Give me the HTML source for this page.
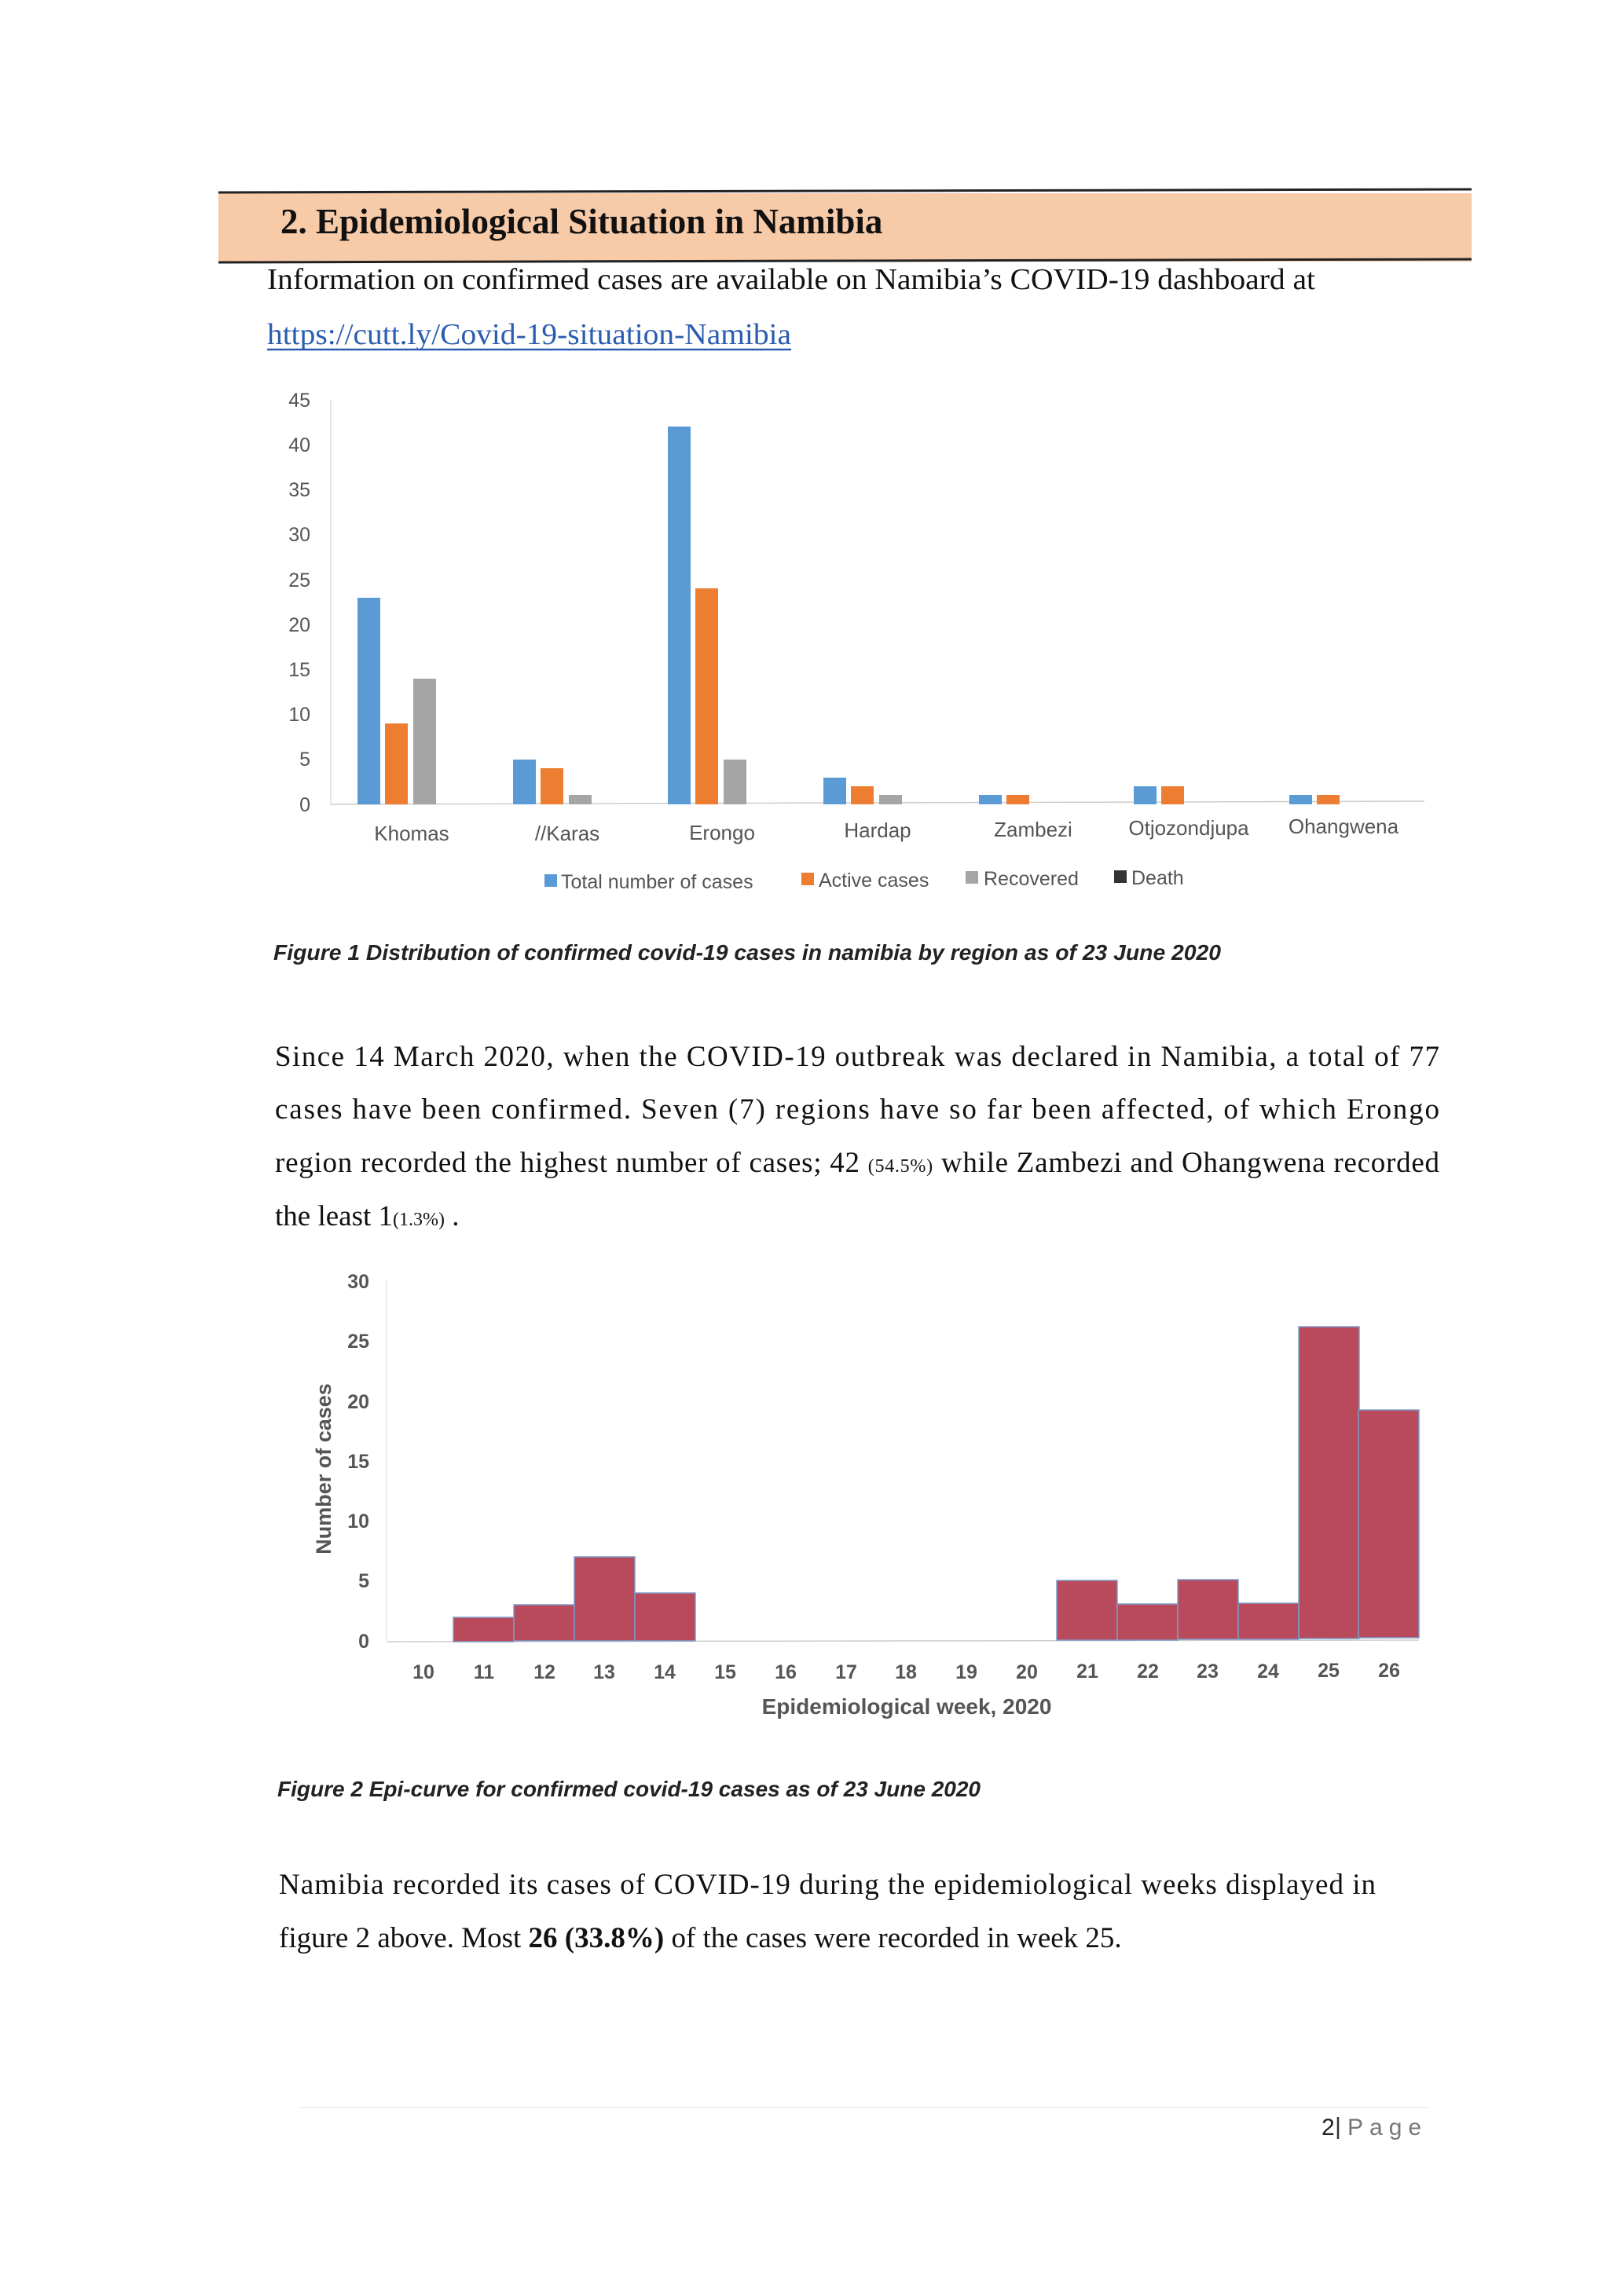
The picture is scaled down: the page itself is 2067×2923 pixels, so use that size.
<!DOCTYPE html>
<html><head><meta charset="utf-8"><style>
html,body{margin:0;padding:0;background:#fff;}
svg{display:block;}
.serif{font-family:"Liberation Serif",serif;}
.sans{font-family:"Liberation Sans","DejaVu Sans",sans-serif;}
</style></head><body>
<svg width="2067" height="2923" viewBox="0 0 2067 2923" xmlns="http://www.w3.org/2000/svg">
<rect width="2067" height="2923" fill="#fff"/>
<!-- header band -->
<rect x="278" y="246" width="1595" height="87" fill="#f7caa8"/>
<line x1="278" y1="245" x2="1873" y2="241" stroke="#222" stroke-width="3"/>
<line x1="278" y1="334" x2="1873" y2="330" stroke="#222" stroke-width="3"/>
<text class="serif" x="357" y="297" font-size="45" font-weight="bold" fill="#111">2.  Epidemiological Situation in Namibia</text>
<text class="serif" x="340" y="368" font-size="38" fill="#111" textLength="1334" lengthAdjust="spacingAndGlyphs">Information on confirmed cases are available on Namibia’s COVID-19 dashboard at</text>
<text class="serif" x="340" y="438" font-size="38" fill="#2a5db0" textLength="667" lengthAdjust="spacingAndGlyphs">https://cutt.ly/Covid-19-situation-Namibia</text>
<line x1="340" y1="445" x2="1007" y2="445" stroke="#2a5db0" stroke-width="2.5"/>

<!-- chart 1 -->
<g class="sans" font-size="25" fill="#555" text-anchor="end">
<text x="395" y="518">45</text><text x="395" y="575">40</text><text x="395" y="632">35</text>
<text x="395" y="689">30</text><text x="395" y="747">25</text><text x="395" y="804">20</text>
<text x="395" y="861">15</text><text x="395" y="918">10</text><text x="395" y="975">5</text>
<text x="395" y="1033">0</text>
</g>
<line x1="421" y1="509" x2="421" y2="1024" stroke="#ddd" stroke-width="1.5"/>
<line x1="421" y1="1024" x2="1813" y2="1020" stroke="#ccc" stroke-width="1.5"/>
<g fill="#5b9bd5">
<rect x="455" y="761" width="29" height="263"/>
<rect x="653" y="967" width="29" height="57"/>
<rect x="850" y="543" width="29" height="481"/>
<rect x="1048" y="990" width="29" height="34"/>
<rect x="1246" y="1012" width="29" height="12"/>
<rect x="1443" y="1001" width="29" height="23"/>
<rect x="1641" y="1012" width="29" height="12"/>
</g>
<g fill="#ed7d31">
<rect x="490" y="921" width="29" height="103"/>
<rect x="688" y="978" width="29" height="46"/>
<rect x="885" y="749" width="29" height="275"/>
<rect x="1083" y="1001" width="29" height="23"/>
<rect x="1281" y="1012" width="29" height="12"/>
<rect x="1478" y="1001" width="29" height="23"/>
<rect x="1676" y="1012" width="29" height="12"/>
</g>
<g fill="#a5a5a5">
<rect x="526" y="864" width="29" height="160"/>
<rect x="724" y="1012" width="29" height="12"/>
<rect x="921" y="967" width="29" height="57"/>
<rect x="1119" y="1012" width="29" height="12"/>
</g>
<g class="sans" font-size="26" fill="#555" text-anchor="middle">
<text x="524" y="1070">Khomas</text><text x="722" y="1070">//Karas</text>
<text x="919" y="1069">Erongo</text><text x="1117" y="1066">Hardap</text>
<text x="1315" y="1065">Zambezi</text><text x="1513" y="1063">Otjozondjupa</text>
<text x="1710" y="1061">Ohangwena</text>
</g>
<g class="sans" font-size="25" fill="#555">
<rect x="693" y="1113" width="16" height="16" fill="#5b9bd5"/><text x="714" y="1131">Total number of cases</text>
<rect x="1020" y="1111" width="16" height="16" fill="#ed7d31"/><text x="1042" y="1129">Active cases</text>
<rect x="1229" y="1109" width="16" height="16" fill="#a5a5a5"/><text x="1252" y="1127">Recovered</text>
<rect x="1418" y="1108" width="16" height="16" fill="#333"/><text x="1440" y="1126">Death</text>
</g>
<text class="sans" x="348" y="1222" font-size="28" font-weight="bold" font-style="italic" fill="#222" textLength="1206" lengthAdjust="spacingAndGlyphs">Figure 1 Distribution of confirmed covid-19 cases in namibia by region as of 23 June 2020</text>

<!-- paragraph -->
<g class="serif" font-size="37" fill="#111">
<text x="350" y="1357" textLength="1482" lengthAdjust="spacing">Since 14 March 2020, when the COVID-19 outbreak was declared in Namibia, a total of 77</text>
<text x="350" y="1424" textLength="1482" lengthAdjust="spacing">cases have been confirmed. Seven (7) regions have so far been affected, of which Erongo</text>
<text x="350" y="1492" textLength="1482" lengthAdjust="spacing">region recorded the highest number of cases; 42 <tspan font-size="24">(54.5%)</tspan> while Zambezi and Ohangwena recorded</text>
<text x="350" y="1560">the least 1<tspan font-size="24">(1.3%)</tspan> .</text>
</g>

<!-- chart 2 -->
<g class="sans" font-size="25" fill="#555" text-anchor="end" font-weight="bold">
<text x="470" y="1640">30</text><text x="470" y="1716">25</text><text x="470" y="1793">20</text>
<text x="470" y="1869">15</text><text x="470" y="1945">10</text><text x="470" y="2021">5</text>
<text x="470" y="2098">0</text>
</g>
<line x1="492" y1="1631" x2="492" y2="2089" stroke="#e6e6e6" stroke-width="1.5"/>
<line x1="492" y1="2090" x2="1806" y2="2088" stroke="#ccc" stroke-width="1.5"/>
<g fill="#b84a5c" stroke="#7c9cc8" stroke-width="1.5">
<rect x="577" y="2059" width="77" height="31"/>
<rect x="654" y="2043" width="77" height="46"/>
<rect x="731" y="1982" width="77" height="107"/>
<rect x="808" y="2028" width="77" height="61"/>
<rect x="1345" y="2012" width="77" height="76"/>
<rect x="1422" y="2042" width="77" height="46"/>
<rect x="1499" y="2011" width="77" height="76"/>
<rect x="1576" y="2041" width="77" height="46"/>
<rect x="1653" y="1689" width="77" height="397"/>
<rect x="1729" y="1795" width="77" height="290"/>
</g>
<g class="sans" font-size="25" fill="#555" text-anchor="middle" font-weight="bold">
<text x="539" y="2137">10</text><text x="616" y="2137">11</text><text x="693" y="2137">12</text>
<text x="769" y="2137">13</text><text x="846" y="2137">14</text><text x="923" y="2137">15</text>
<text x="1000" y="2137">16</text><text x="1077" y="2137">17</text><text x="1153" y="2137">18</text>
<text x="1230" y="2137">19</text><text x="1307" y="2137">20</text><text x="1384" y="2136">21</text>
<text x="1461" y="2136">22</text><text x="1537" y="2136">23</text><text x="1614" y="2136">24</text>
<text x="1691" y="2135">25</text><text x="1768" y="2135">26</text>
</g>
<text class="sans" x="1154" y="2182" font-size="28" fill="#555" text-anchor="middle" font-weight="bold">Epidemiological week, 2020</text>
<text class="sans" transform="translate(421,1870) rotate(-90)" font-size="27" fill="#555" text-anchor="middle" font-weight="bold">Number of cases</text>
<text class="sans" x="353" y="2287" font-size="28" font-weight="bold" font-style="italic" fill="#222" textLength="895" lengthAdjust="spacingAndGlyphs">Figure 2 Epi-curve for confirmed covid-19 cases as of 23 June 2020</text>

<g class="serif" font-size="37" fill="#111">
<text x="355" y="2411" textLength="1396" lengthAdjust="spacing">Namibia recorded its cases of COVID-19 during the epidemiological weeks displayed in</text>
<text x="355" y="2479">figure 2 above. Most <tspan font-weight="bold">26 (33.8%)</tspan> of the cases were recorded in week 25.</text>
</g>

<line x1="380" y1="2683" x2="1820" y2="2683" stroke="#eee" stroke-width="1.5"/>
<text class="sans" x="1682" y="2718" font-size="30" fill="#222">2</text>
<line x1="1703" y1="2695" x2="1703" y2="2723" stroke="#333" stroke-width="2.5"/>
<text class="sans" x="1715" y="2718" font-size="30" fill="#777" letter-spacing="8">Page</text>
</svg>
</body></html>
